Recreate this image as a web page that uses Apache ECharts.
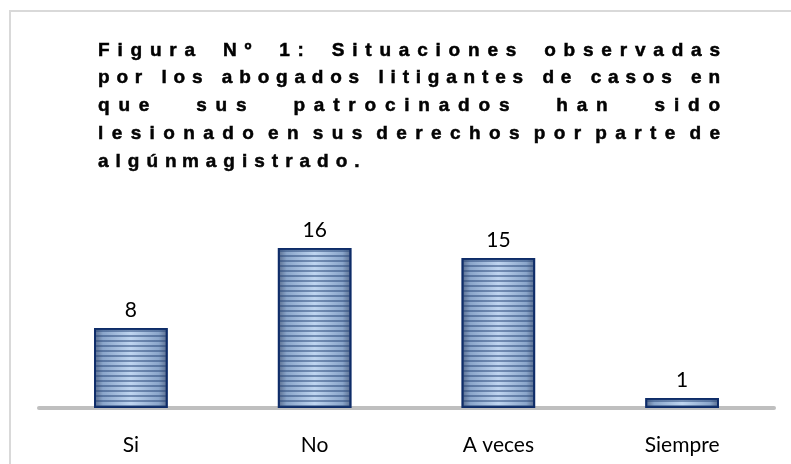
<!DOCTYPE html>
<html>
<head>
<meta charset="utf-8">
<script src="https://cdn.jsdelivr.net/npm/echarts@6/dist/echarts.min.js"></script>
<style>
html,body{margin:0;padding:0;background:#fff;}
#chart{width:791px;height:464px;}
</style>
</head>
<body>
<div id="chart"></div>
<script>
// ---- data ----
const categories = ['Si', 'No', 'A veces', 'Siempre'];
const values = [8, 16, 15, 1];
const titleLines = [
  'Figura Nº 1: Situaciones observadas',
  'por los abogados litigantes de casos en',
  'que sus patrocinados han sido',
  'lesionado en sus derechos por parte de',
  'algún magistrado.'
];

// ---- title layout (justified, letter-spaced like the original) ----
const TITLE_SIZE = 19;
const TITLE_FAMILY = 'Liberation Sans';
const TITLE_FONT = 'bold ' + TITLE_SIZE + 'px "' + TITLE_FAMILY + '"';
const titleLeft = 98, titleRight = 720;
const lineLetterSpacing = [7.8, 6.8, 8.8, 8.4, 7];
const lineBaselines = [57, 84, 112, 140, 168];
const lineJustify = [true, true, true, true, false];
const lineColors = ['#010101', '#020202', '#030303', '#040404', '#050505'];

const LS_BY_COLOR = {};
lineColors.forEach((c, i) => { LS_BY_COLOR[c] = lineLetterSpacing[i]; });

(function patch() {
  const proto = CanvasRenderingContext2D.prototype;
  if (!('letterSpacing' in proto)) return;
  function wrap(orig, styleKey) {
    return function (t, x, y, mw) {
      const ls = LS_BY_COLOR[this[styleKey]];
      const want = ls !== undefined ? ls + 'px' : '0px';
      if (this.letterSpacing !== want) {
        const f = this.font;
        this.letterSpacing = want;
        this.font = f;
      }
      const r = mw === undefined ? orig.call(this, t, x, y) : orig.call(this, t, x, y, mw);
      if (want !== '0px') {
        const f2 = this.font;
        this.letterSpacing = '0px';
        this.font = f2;
      }
      return r;
    };
  }
  proto.fillText = wrap(proto.fillText, 'fillStyle');
  proto.strokeText = wrap(proto.strokeText, 'strokeStyle');
})();

const mctx = document.createElement('canvas').getContext('2d');
mctx.font = TITLE_FONT;
function wordWidth(w, ls) {
  return mctx.measureText(w).width + ls * (Array.from(w).length - 1);
}

const titleGraphics = [];
titleLines.forEach((line, i) => {
  const words = line.split(' ');
  const ls = lineLetterSpacing[i];
  const widths = words.map(w => wordWidth(w, ls));
  const total = widths.reduce((a, b) => a + b, 0);
  const gap = lineJustify[i] && words.length > 1
    ? (titleRight - titleLeft - total) / (words.length - 1)
    : ls * 0.75;
  let x = titleLeft;
  words.forEach((w, j) => {
    titleGraphics.push({
      type: 'text',
      x: x,
      y: lineBaselines[i] - 6.5,
      style: {
        text: w,
        fontSize: TITLE_SIZE,
        fontWeight: 'bold',
        fontFamily: TITLE_FAMILY,
        fill: lineColors[i],
        stroke: lineColors[i],
        lineWidth: 0.5,
        textAlign: 'left',
        textVerticalAlign: 'middle'
      }
    });
    x += widths[j] + gap;
  });
});

const chart = echarts.init(document.getElementById('chart'), null, { renderer: 'canvas' });
chart.setOption({
  animation: false,
  backgroundColor: '#ffffff',
  graphic: [
    {
      type: 'rect',
      shape: { x: 10, y: 11, width: 800, height: 470 },
      style: { fill: 'none', stroke: '#d9d9d9', lineWidth: 2 },
      silent: true
    }
  ].concat(titleGraphics),
  grid: { left: 39, right: 17, top: 248, bottom: 56, containLabel: false },
  xAxis: {
    type: 'category',
    data: categories,
    offset: 2,
    axisLine: { show: true, lineStyle: { color: '#bfbfbf', width: 4 } },
    axisTick: { show: false },
    axisLabel: { margin: 25, fontSize: 21, fontFamily: 'Lato', color: '#000000' }
  },
  yAxis: {
    type: 'value',
    min: 0,
    max: 16,
    show: false,
    splitLine: { show: false }
  },
  series: [{
    type: 'bar',
    data: values,
    barWidth: '40%',
    itemStyle: {
      borderColor: '#0e2c68',
      borderWidth: 1.8,
      color: {
        type: 'linear', x: 0, y: 0, x2: 1, y2: 0,
        colorStops: [
          { offset: 0, color: '#56698a' },
          { offset: 0.12, color: '#8aa5ca' },
          { offset: 0.5, color: '#bfd5f0' },
          { offset: 0.88, color: '#8aa5ca' },
          { offset: 1, color: '#56698a' }
        ]
      },
      decal: {
        symbol: 'rect',
        symbolSize: 1,
        dashArrayX: [[8, 0]],
        dashArrayY: [2, 3],
        rotation: 0,
        color: 'rgba(40, 70, 120, 0.5)'
      }
    },
    label: {
      show: true,
      position: 'top',
      distance: 7,
      fontSize: 21,
      fontFamily: 'Lato',
      color: '#000000'
    }
  }]
});
</script>
</body>
</html>
